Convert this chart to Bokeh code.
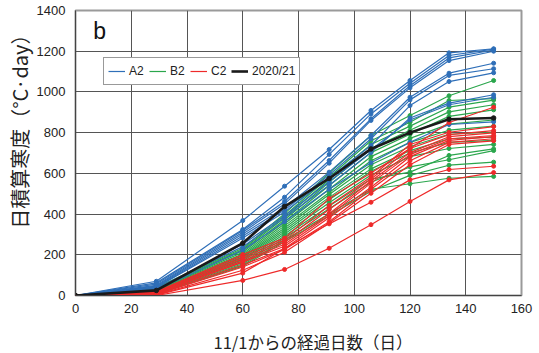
from bokeh.plotting import figure
from bokeh.models import Range1d, SingleIntervalTicker, Legend, LegendItem, Label, Title
from bokeh.embed import file_html
from bokeh.resources import INLINE

# Days since 11/1 at each observation
days = [0, 29, 60, 75, 91, 106, 120, 134, 150]

# Accumulated freezing degree-days, scenario A2
a2_series = [
    [0, 70, 368, 537, 717, 909, 1056, 1192, 1212],
    [0, 62, 324, 483, 693, 892, 1043, 1179, 1210],
    [0, 56, 319, 462, 663, 868, 1030, 1167, 1206],
    [0, 50, 311, 450, 650, 860, 1020, 1154, 1200],
    [0, 46, 302, 432, 606, 786, 974, 1092, 1141],
    [0, 42, 292, 420, 592, 770, 961, 1081, 1114],
    [0, 40, 282, 410, 578, 737, 933, 1051, 1094],
    [0, 36, 240, 382, 542, 702, 872, 945, 986],
    [0, 32, 252, 392, 560, 716, 862, 937, 974],
    [0, 28, 222, 362, 522, 652, 753, 840, 853],
]

# Scenario B2
b2_series = [
    [0, 40, 232, 402, 602, 786, 884, 981, 1056],
    [0, 36, 226, 392, 582, 760, 851, 958, 967],
    [0, 33, 220, 382, 570, 742, 832, 925, 960],
    [0, 30, 212, 372, 556, 722, 812, 902, 937],
    [0, 28, 204, 362, 540, 702, 792, 880, 912],
    [0, 25, 196, 352, 522, 682, 772, 842, 862],
    [0, 22, 190, 342, 506, 662, 752, 812, 832],
    [0, 20, 186, 332, 496, 642, 732, 792, 802],
    [0, 18, 180, 322, 482, 622, 712, 770, 778],
    [0, 16, 176, 312, 470, 610, 700, 752, 762],
    [0, 14, 170, 302, 456, 592, 682, 722, 742],
    [0, 12, 162, 292, 440, 572, 606, 688, 720],
    [0, 10, 156, 282, 426, 556, 632, 667, 712],
    [0, 8, 150, 272, 402, 522, 549, 576, 585],
    [0, 6, 144, 264, 392, 512, 590, 640, 655],
]

# Scenario C2
c2_series = [
    [0, 20, 201, 282, 476, 602, 722, 850, 925],
    [0, 18, 190, 272, 442, 582, 742, 802, 830],
    [0, 15, 180, 262, 422, 572, 722, 790, 810],
    [0, 12, 170, 252, 402, 562, 702, 780, 799],
    [0, 10, 164, 242, 392, 552, 692, 770, 786],
    [0, 8, 150, 231, 382, 532, 682, 762, 780],
    [0, 5, 140, 226, 362, 522, 662, 752, 770],
    [0, 3, 124, 212, 356, 502, 642, 742, 760],
    [0, 2, 110, 231, 352, 458, 568, 619, 635],
    [0, 0, 74, 128, 232, 348, 462, 568, 604],
]

# Winter 2020/21 observations
obs_2020 = [0, 25, 257, 437, 575, 720, 800, 866, 872]

legend_labels = ["A2", "B2", "C2", "2020/21"]
colors = {"A2": "#2f6fb8", "B2": "#2aa64c", "C2": "#ee2a2a", "2020/21": "#1a1a1a"}

p = figure(width=539, height=353, output_backend="svg", toolbar_location=None,
           x_range=Range1d(0, 160), y_range=Range1d(0, 1400),
           min_border_left=75, min_border_right=18, min_border_top=10, min_border_bottom=58)
p.background_fill_color = "white"
p.border_fill_color = "white"
p.outline_line_color = "#9a9a9a"
p.outline_line_width = 2

p.xaxis.ticker = SingleIntervalTicker(interval=20)
p.yaxis.ticker = SingleIntervalTicker(interval=200)
for ax in (p.xaxis, p.yaxis):
    ax.axis_line_color = "#444444"
    ax.axis_line_width = 1
    ax.major_tick_line_color = None
    ax.minor_tick_line_color = None
    ax.major_tick_out = 0
    ax.major_tick_in = 0
    ax.minor_tick_out = 0
    ax.minor_tick_in = 0
    ax.major_label_text_font = "Liberation Sans"
    ax.major_label_text_font_size = "13px"
    ax.major_label_text_color = "#222222"
    ax.axis_label_standoff = 0
p.xaxis.major_label_standoff = 8
p.yaxis.major_label_standoff = 10

# blank spacer label below the x ticks pushes the x title downward
p.xaxis.axis_label = " "
p.xaxis.axis_label_text_font_size = "1px"
p.xaxis.axis_label_standoff = 8

p.xgrid.ticker = SingleIntervalTicker(interval=20)
p.ygrid.ticker = SingleIntervalTicker(interval=200)
for g in (p.xgrid, p.ygrid):
    g.grid_line_color = "#555555"
    g.grid_line_width = 1

first = {}

def draw(series_list, key, lw, size):
    for s in series_list:
        r = p.line(days, s, line_color=colors[key], line_width=lw)
        p.scatter(days, s, size=size, fill_color=colors[key], line_color=colors[key])
        first.setdefault(key, r)

draw(b2_series, "B2", 1.2, 4)
draw(a2_series, "A2", 1.2, 4)
draw(c2_series, "C2", 1.2, 4)
draw([obs_2020], "2020/21", 2.6, 4.5)

legend = Legend(items=[LegendItem(label=k, renderers=[first[k]]) for k in legend_labels],
                orientation="horizontal", location=(28, 210),
                glyph_width=17, glyph_height=18, label_standoff=4, spacing=0,
                padding=4, margin=0,
                label_text_font="Liberation Sans", label_text_font_size="12px",
                label_text_color="#222222",
                border_line_color="#333333", border_line_width=1,
                background_fill_color="white", background_fill_alpha=1)
p.add_layout(legend, "center")

p.add_layout(Label(x=6.4, y=1236, text="b", text_font="Liberation Sans",
                   text_font_size="23px", text_color="#111111"))

# Axis titles as side titles so they can be offset along the axis
p.add_layout(Title(text="11/1からの経過日数（日）", align="left", offset=138,
                   text_font="Noto Sans CJK JP", text_font_size="16.5px",
                   text_font_style="normal", text_color="#222222", standoff=0),
             "below")
p.add_layout(Title(text="日積算寒度（°C·day）", align="right", offset=14,
                   text_font="Noto Sans CJK JP", text_font_size="20px",
                   text_font_style="normal", text_color="#222222", standoff=0),
             "left")

open("out.html", "w").write(file_html(p, INLINE))
